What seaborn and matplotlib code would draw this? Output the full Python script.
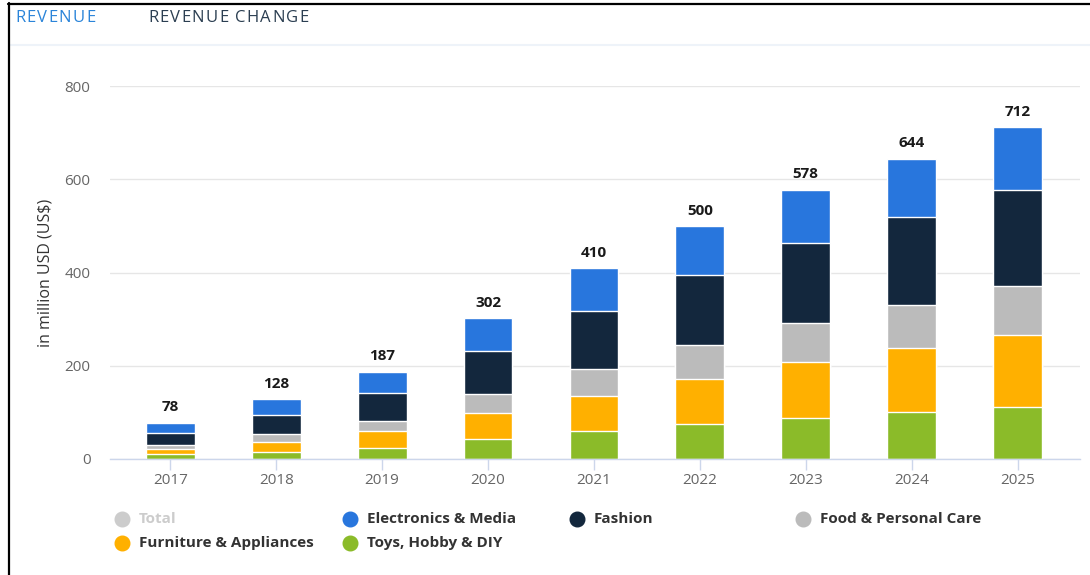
import matplotlib
matplotlib.use("Agg")
import matplotlib.pyplot as plt
from matplotlib.lines import Line2D
import numpy as np
import seaborn as sns

# Revenue by segment, in million USD
years = ["2017", "2018", "2019", "2020", "2021", "2022", "2023", "2024", "2025"]
toys_hobby_diy = [10, 14, 23, 42, 59, 75, 89, 101, 112]
furniture_appliances = [11, 22, 36, 56, 76, 97, 118, 136, 155]
food_personal_care = [8.5, 17, 22, 41, 58, 73, 85, 94, 103]
fashion = [26.5, 41, 60, 92, 125, 150, 171, 189, 207]
electronics_media = [22, 34, 46, 71, 92, 105, 115, 124, 135]

segment_names = ["Toys, Hobby & DIY", "Furniture & Appliances", "Food & Personal Care",
                 "Fashion", "Electronics & Media"]
segment_values = [toys_hobby_diy, furniture_appliances, food_personal_care,
                  fashion, electronics_media]
segment_colors = ["#8bbb29", "#ffb000", "#bbbbbb", "#13273d", "#2876dd"]

W, H = 1090, 575

sns.set_theme(style="white")
plt.rcParams["font.family"] = ["Open Sans", "DejaVu Sans"]

fig = plt.figure(figsize=(W / 100, H / 100), dpi=100)
fig.patch.set_facecolor("white")
renderer = fig.canvas.get_renderer()


def fx(px):
    return px / W


def fy(py):
    return 1 - py / H


def spaced_text(x, y, s, spacing, **kw):
    """Write s one character at a time with extra tracking (pixels)."""
    cur = x
    for ch in s:
        if ch == " ":
            cur += 4 + spacing
            continue
        t = fig.text(fx(cur), fy(y), ch, ha="left", va="center", **kw)
        cur += t.get_window_extent(renderer).width + spacing


ax = fig.add_axes([fx(110), fy(459), fx(970), 373 / H])

# stacked bars: draw cumulative heights from the tallest layer down
cumulative = np.cumsum(np.array(segment_values, dtype=float), axis=0)
for heights, color in reversed(list(zip(cumulative, segment_colors))):
    sns.barplot(x=years, y=heights, color=color, saturation=1, width=0.46,
                edgecolor="white", linewidth=1, errorbar=None, ax=ax, zorder=3)

totals = cumulative[-1]
for i, total in enumerate(totals):
    ax.annotate(f"{total:.0f}", (i, total), xytext=(0, 6), textcoords="offset points",
                ha="center", va="bottom", fontsize=11, fontweight="bold", color="#1a1a1a")

ax.set_ylim(0, 800)
ax.set_xlim(-0.57, 8.59)
ax.set_yticks([0, 200, 400, 600, 800])
ax.yaxis.grid(True, color="#e6e6e6", linewidth=1, zorder=0)
ax.set_axisbelow(True)
for side in ["top", "right", "left"]:
    ax.spines[side].set_visible(False)
ax.spines["bottom"].set_color("#ccd6eb")
ax.spines["bottom"].set_linewidth(1)
ax.spines["bottom"].set_zorder(4)
ax.tick_params(axis="x", length=8, width=1, color="#ccd6eb", labelcolor="#666666",
               labelsize=11, pad=2, bottom=True)
ax.tick_params(axis="y", length=0, labelcolor="#666666", labelsize=11, pad=14)
ax.set_xlabel("")
ax.set_ylabel("in million USD (US$)", fontsize=11.5, color="#333333")
ax.yaxis.set_label_coords((53 - 110) / 970, 0.5)

# legend
legend_items = [
    ("Total", "#cccccc", "#cccccc", 122, 519),
    ("Electronics & Media", segment_colors[4], "#333333", 350, 519),
    ("Fashion", segment_colors[3], "#333333", 577, 519),
    ("Food & Personal Care", segment_colors[2], "#333333", 803, 519),
    ("Furniture & Appliances", segment_colors[1], "#333333", 122, 543),
    ("Toys, Hobby & DIY", segment_colors[0], "#333333", 350, 543),
]
for label, mcolor, tcolor, x, y in legend_items:
    fig.add_artist(Line2D([fx(x)], [fy(y)], marker="o", markersize=10.5, linestyle="none",
                          color=mcolor, transform=fig.transFigure))
    fig.text(fx(x + 17), fy(y), label, color=tcolor, fontsize=11, fontweight="bold",
             ha="left", va="center")

# tab headers
spaced_text(15, 18, "REVENUE", 1.3, color="#2a84d9", fontsize=12)
spaced_text(148, 18, "REVENUE CHANGE", 1.3, color="#2b3e51", fontsize=12)
fig.add_artist(Line2D([fx(10), 1], [fy(45), fy(45)], color="#eef3f9", linewidth=1.5,
                      transform=fig.transFigure))

# outer frame
fig.add_artist(Line2D([fx(8), 1], [fy(3.5), fy(3.5)], color="black", linewidth=1.6,
                      transform=fig.transFigure))
fig.add_artist(Line2D([fx(9), fx(9)], [fy(3), 0], color="black", linewidth=1.6,
                      transform=fig.transFigure))

fig.savefig("out.png", dpi=100, facecolor="white")
